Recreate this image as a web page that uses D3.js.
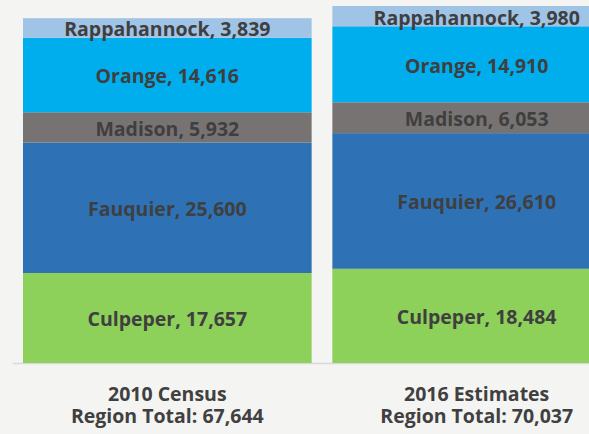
<!DOCTYPE html>
<meta charset="utf-8">
<title>Region Population</title>
<style>
body { margin: 0; background: #f4f4f2; }
svg { display: block; }
.seg-label { font-family: "Open Sans", sans-serif; font-weight: bold; font-size: 19.5px; fill: #3f3f3f; }
.cat-label { font-family: "Open Sans", sans-serif; font-weight: bold; font-size: 19.5px; fill: #404040; }
</style>
<svg width="589" height="434"></svg>
<script src="https://d3js.org/d3.v7.min.js"></script>
<script>
// data
const periods = ["2010 Census", "2016 Estimates"];
const totals = [67644, 70037];
const counties = ["Culpeper", "Fauquier", "Madison", "Orange", "Rappahannock"];
const census2010 = [17657, 25600, 5932, 14616, 3839];
const estimates2016 = [18484, 26610, 6053, 14910, 3980];
const colors = ["#8dd05a", "#2e72b5", "#777372", "#00aeee", "#9fc4e6"];

const svg = d3.select("svg");
const width = 589;

const x = d3.scaleBand().domain(periods).range([23, 621]).paddingInner(0.067);
const y = d3.scaleLinear().domain([0, 70037]).range([363, 6]);
const color = d3.scaleOrdinal().domain(counties).range(colors);

const rows = periods.map((p, i) => {
  const vals = i === 0 ? census2010 : estimates2016;
  const r = { period: p };
  counties.forEach((c, j) => r[c] = vals[j]);
  return r;
});
const stacked = d3.stack().keys(counties)(rows);

// baseline
svg.append("line")
  .attr("x1", 13).attr("x2", width)
  .attr("y1", y(0) + 0.5).attr("y2", y(0) + 0.5)
  .attr("stroke", "#d8d8d6").attr("stroke-width", 1.5);

const layer = svg.append("g").selectAll("g")
  .data(stacked)
  .enter().append("g")
  .attr("fill", d => color(d.key));

layer.selectAll("rect")
  .data(d => d.map(s => Object.assign(s, { key: d.key })))
  .enter().append("rect")
  .attr("x", d => x(d.data.period))
  .attr("width", x.bandwidth())
  .attr("y", d => y(d[1]))
  .attr("height", d => y(d[0]) - y(d[1]));

layer.selectAll("text")
  .data(d => d)
  .enter().append("text")
  .attr("class", "seg-label")
  .attr("text-anchor", "middle")
  .attr("x", d => x(d.data.period) + x.bandwidth() / 2)
  .attr("y", d => (y(d[0]) + y(d[1])) / 2)
  .attr("dy", "0.43em")
  .text(d => d.key + ", " + d3.format(",")(d.data[d.key]));

// category labels
const cat = svg.append("g").selectAll("text")
  .data(periods)
  .enter().append("text")
  .attr("class", "cat-label")
  .attr("text-anchor", "middle")
  .attr("x", d => x(d) + x.bandwidth() / 2)
  .attr("y", 401);
cat.append("tspan").text(d => d);
cat.append("tspan")
  .attr("x", d => x(d) + x.bandwidth() / 2)
  .attr("dy", 21.5)
  .text((d, i) => "Region Total: " + d3.format(",")(totals[i]));
</script>
